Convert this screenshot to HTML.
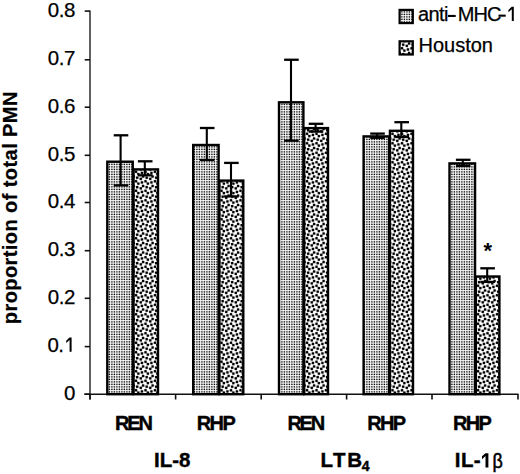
<!DOCTYPE html><html><head><meta charset="utf-8"><style>html,body{margin:0;padding:0;background:#fff;width:520px;height:474px;overflow:hidden}svg{display:block}text{font-family:"Liberation Sans",sans-serif}</style></head><body><svg width="520" height="474" viewBox="0 0 520 474"><defs><pattern id="pa" patternUnits="userSpaceOnUse" width="5" height="5" x="0" y="0"><rect width="5" height="5" fill="#fff"/><rect x="0" y="0" width="1" height="1" fill="#fafafa"/><rect x="1" y="0" width="1" height="1" fill="#e3e3e3"/><rect x="2" y="0" width="1" height="1" fill="#eaeaea"/><rect x="3" y="0" width="1" height="1" fill="#f2f2f2"/><rect x="4" y="0" width="1" height="1" fill="#dbdbdb"/><rect x="0" y="1" width="1" height="1" fill="#e3e3e3"/><rect x="1" y="1" width="1" height="1" fill="#696969"/><rect x="2" y="1" width="1" height="1" fill="#909090"/><rect x="3" y="1" width="1" height="1" fill="#b8b8b8"/><rect x="4" y="1" width="1" height="1" fill="#3e3e3e"/><rect x="0" y="2" width="1" height="1" fill="#eaeaea"/><rect x="1" y="2" width="1" height="1" fill="#909090"/><rect x="2" y="2" width="1" height="1" fill="#adadad"/><rect x="3" y="2" width="1" height="1" fill="#cacaca"/><rect x="4" y="2" width="1" height="1" fill="#707070"/><rect x="0" y="3" width="1" height="1" fill="#f2f2f2"/><rect x="1" y="3" width="1" height="1" fill="#b8b8b8"/><rect x="2" y="3" width="1" height="1" fill="#cacaca"/><rect x="3" y="3" width="1" height="1" fill="#dddddd"/><rect x="4" y="3" width="1" height="1" fill="#a3a3a3"/><rect x="0" y="4" width="1" height="1" fill="#dbdbdb"/><rect x="1" y="4" width="1" height="1" fill="#3e3e3e"/><rect x="2" y="4" width="1" height="1" fill="#707070"/><rect x="3" y="4" width="1" height="1" fill="#a3a3a3"/><rect x="4" y="4" width="1" height="1" fill="#060606"/></pattern><pattern id="pb" patternUnits="userSpaceOnUse" width="19" height="19" x="136" y="300"><rect width="19" height="19" fill="#fff"/><rect x="0" y="0" width="1" height="1" fill="#121212"/><rect x="1" y="0" width="1" height="1" fill="#020202"/><rect x="2" y="0" width="1" height="1" fill="#9f9f9f"/><rect x="4" y="0" width="1" height="1" fill="#fbfbfb"/><rect x="5" y="0" width="1" height="1" fill="#c6c6c6"/><rect x="6" y="0" width="1" height="1" fill="#020202"/><rect x="7" y="0" width="1" height="1" fill="#000000"/><rect x="8" y="0" width="1" height="1" fill="#969696"/><rect x="9" y="0" width="1" height="1" fill="#777777"/><rect x="10" y="0" width="1" height="1" fill="#020202"/><rect x="11" y="0" width="1" height="1" fill="#2f2f2f"/><rect x="12" y="0" width="1" height="1" fill="#f7f7f7"/><rect x="14" y="0" width="1" height="1" fill="#e4e4e4"/><rect x="15" y="0" width="1" height="1" fill="#5f5f5f"/><rect x="16" y="0" width="1" height="1" fill="#000000"/><rect x="17" y="0" width="1" height="1" fill="#363636"/><rect x="18" y="0" width="1" height="1" fill="#d3d3d3"/><rect x="0" y="1" width="1" height="1" fill="#020202"/><rect x="1" y="1" width="1" height="1" fill="#000000"/><rect x="2" y="1" width="1" height="1" fill="#898989"/><rect x="3" y="1" width="1" height="1" fill="#989898"/><rect x="4" y="1" width="1" height="1" fill="#2f2f2f"/><rect x="5" y="1" width="1" height="1" fill="#373737"/><rect x="6" y="1" width="1" height="1" fill="#a9a9a9"/><rect x="7" y="1" width="1" height="1" fill="#c8c8c8"/><rect x="8" y="1" width="1" height="1" fill="#e7e7e7"/><rect x="9" y="1" width="1" height="1" fill="#777777"/><rect x="10" y="1" width="1" height="1" fill="#000000"/><rect x="11" y="1" width="1" height="1" fill="#202020"/><rect x="12" y="1" width="1" height="1" fill="#d8d8d8"/><rect x="13" y="1" width="1" height="1" fill="#494949"/><rect x="14" y="1" width="1" height="1" fill="#282828"/><rect x="15" y="1" width="1" height="1" fill="#737373"/><rect x="16" y="1" width="1" height="1" fill="#b7b7b7"/><rect x="17" y="1" width="1" height="1" fill="#dadada"/><rect x="18" y="1" width="1" height="1" fill="#e9e9e9"/><rect x="0" y="2" width="1" height="1" fill="#8e8e8e"/><rect x="1" y="2" width="1" height="1" fill="#949494"/><rect x="2" y="2" width="1" height="1" fill="#d1d1d1"/><rect x="3" y="2" width="1" height="1" fill="#838383"/><rect x="4" y="2" width="1" height="1" fill="#000000"/><rect x="5" y="2" width="1" height="1" fill="#0f0f0f"/><rect x="6" y="2" width="1" height="1" fill="#efefef"/><rect x="9" y="2" width="1" height="1" fill="#c3c3c3"/><rect x="10" y="2" width="1" height="1" fill="#8b8b8b"/><rect x="11" y="2" width="1" height="1" fill="#adadad"/><rect x="12" y="2" width="1" height="1" fill="#e6e6e6"/><rect x="13" y="2" width="1" height="1" fill="#111111"/><rect x="14" y="2" width="1" height="1" fill="#000000"/><rect x="15" y="2" width="1" height="1" fill="#858585"/><rect x="18" y="2" width="1" height="1" fill="#fafafa"/><rect x="0" y="3" width="1" height="1" fill="#7e7e7e"/><rect x="1" y="3" width="1" height="1" fill="#e4e4e4"/><rect x="3" y="3" width="1" height="1" fill="#c7c7c7"/><rect x="4" y="3" width="1" height="1" fill="#686868"/><rect x="5" y="3" width="1" height="1" fill="#747474"/><rect x="8" y="3" width="1" height="1" fill="#b8b8b8"/><rect x="9" y="3" width="1" height="1" fill="#818181"/><rect x="10" y="3" width="1" height="1" fill="#a7a7a7"/><rect x="13" y="3" width="1" height="1" fill="#7e7e7e"/><rect x="14" y="3" width="1" height="1" fill="#636363"/><rect x="15" y="3" width="1" height="1" fill="#bcbcbc"/><rect x="17" y="3" width="1" height="1" fill="#f5f5f5"/><rect x="18" y="3" width="1" height="1" fill="#8c8c8c"/><rect x="0" y="4" width="1" height="1" fill="#000000"/><rect x="1" y="4" width="1" height="1" fill="#c5c5c5"/><rect x="4" y="4" width="1" height="1" fill="#e3e3e3"/><rect x="5" y="4" width="1" height="1" fill="#a3a3a3"/><rect x="6" y="4" width="1" height="1" fill="#b8b8b8"/><rect x="7" y="4" width="1" height="1" fill="#e9e9e9"/><rect x="8" y="4" width="1" height="1" fill="#4c4c4c"/><rect x="9" y="4" width="1" height="1" fill="#000000"/><rect x="10" y="4" width="1" height="1" fill="#4d4d4d"/><rect x="14" y="4" width="1" height="1" fill="#b9b9b9"/><rect x="15" y="4" width="1" height="1" fill="#ababab"/><rect x="16" y="4" width="1" height="1" fill="#d3d3d3"/><rect x="17" y="4" width="1" height="1" fill="#bdbdbd"/><rect x="18" y="4" width="1" height="1" fill="#000000"/><rect x="0" y="5" width="1" height="1" fill="#111111"/><rect x="1" y="5" width="1" height="1" fill="#a0a0a0"/><rect x="2" y="5" width="1" height="1" fill="#dedede"/><rect x="3" y="5" width="1" height="1" fill="#f3f3f3"/><rect x="4" y="5" width="1" height="1" fill="#b5b5b5"/><rect x="5" y="5" width="1" height="1" fill="#000000"/><rect x="6" y="5" width="1" height="1" fill="#020202"/><rect x="7" y="5" width="1" height="1" fill="#bbbbbb"/><rect x="8" y="5" width="1" height="1" fill="#5f5f5f"/><rect x="9" y="5" width="1" height="1" fill="#0e0e0e"/><rect x="10" y="5" width="1" height="1" fill="#4c4c4c"/><rect x="11" y="5" width="1" height="1" fill="#cacaca"/><rect x="12" y="5" width="1" height="1" fill="#e8e8e8"/><rect x="13" y="5" width="1" height="1" fill="#f5f5f5"/><rect x="14" y="5" width="1" height="1" fill="#424242"/><rect x="15" y="5" width="1" height="1" fill="#000000"/><rect x="16" y="5" width="1" height="1" fill="#595959"/><rect x="17" y="5" width="1" height="1" fill="#b4b4b4"/><rect x="18" y="5" width="1" height="1" fill="#191919"/><rect x="0" y="6" width="1" height="1" fill="#d5d5d5"/><rect x="1" y="6" width="1" height="1" fill="#2e2e2e"/><rect x="2" y="6" width="1" height="1" fill="#000000"/><rect x="3" y="6" width="1" height="1" fill="#696969"/><rect x="4" y="6" width="1" height="1" fill="#a3a3a3"/><rect x="5" y="6" width="1" height="1" fill="#020202"/><rect x="6" y="6" width="1" height="1" fill="#070707"/><rect x="7" y="6" width="1" height="1" fill="#d5d5d5"/><rect x="9" y="6" width="1" height="1" fill="#eaeaea"/><rect x="10" y="6" width="1" height="1" fill="#909090"/><rect x="11" y="6" width="1" height="1" fill="#000000"/><rect x="12" y="6" width="1" height="1" fill="#0d0d0d"/><rect x="13" y="6" width="1" height="1" fill="#c7c7c7"/><rect x="14" y="6" width="1" height="1" fill="#444444"/><rect x="15" y="6" width="1" height="1" fill="#000000"/><rect x="16" y="6" width="1" height="1" fill="#636363"/><rect x="17" y="6" width="1" height="1" fill="#fafafa"/><rect x="18" y="6" width="1" height="1" fill="#f9f9f9"/><rect x="1" y="7" width="1" height="1" fill="#323232"/><rect x="2" y="7" width="1" height="1" fill="#000000"/><rect x="3" y="7" width="1" height="1" fill="#6b6b6b"/><rect x="4" y="7" width="1" height="1" fill="#eeeeee"/><rect x="5" y="7" width="1" height="1" fill="#d1d1d1"/><rect x="6" y="7" width="1" height="1" fill="#bbbbbb"/><rect x="7" y="7" width="1" height="1" fill="#f0f0f0"/><rect x="10" y="7" width="1" height="1" fill="#aaaaaa"/><rect x="11" y="7" width="1" height="1" fill="#000000"/><rect x="12" y="7" width="1" height="1" fill="#020202"/><rect x="13" y="7" width="1" height="1" fill="#dedede"/><rect x="14" y="7" width="1" height="1" fill="#e4e4e4"/><rect x="15" y="7" width="1" height="1" fill="#c3c3c3"/><rect x="16" y="7" width="1" height="1" fill="#d2d2d2"/><rect x="1" y="8" width="1" height="1" fill="#ababab"/><rect x="2" y="8" width="1" height="1" fill="#9e9e9e"/><rect x="3" y="8" width="1" height="1" fill="#d9d9d9"/><rect x="5" y="8" width="1" height="1" fill="#f3f3f3"/><rect x="6" y="8" width="1" height="1" fill="#525252"/><rect x="7" y="8" width="1" height="1" fill="#4e4e4e"/><rect x="8" y="8" width="1" height="1" fill="#cccccc"/><rect x="10" y="8" width="1" height="1" fill="#dbdbdb"/><rect x="11" y="8" width="1" height="1" fill="#969696"/><rect x="12" y="8" width="1" height="1" fill="#acacac"/><rect x="15" y="8" width="1" height="1" fill="#9e9e9e"/><rect x="16" y="8" width="1" height="1" fill="#4a4a4a"/><rect x="17" y="8" width="1" height="1" fill="#797979"/><rect x="0" y="9" width="1" height="1" fill="#838383"/><rect x="1" y="9" width="1" height="1" fill="#707070"/><rect x="2" y="9" width="1" height="1" fill="#c8c8c8"/><rect x="5" y="9" width="1" height="1" fill="#d9d9d9"/><rect x="6" y="9" width="2" height="1" fill="#000000"/><rect x="8" y="9" width="1" height="1" fill="#9c9c9c"/><rect x="9" y="9" width="1" height="1" fill="#b8b8b8"/><rect x="10" y="9" width="1" height="1" fill="#757575"/><rect x="11" y="9" width="1" height="1" fill="#878787"/><rect x="14" y="9" width="1" height="1" fill="#fafafa"/><rect x="15" y="9" width="1" height="1" fill="#656565"/><rect x="16" y="9" width="1" height="1" fill="#000000"/><rect x="17" y="9" width="1" height="1" fill="#2f2f2f"/><rect x="18" y="9" width="1" height="1" fill="#e4e4e4"/><rect x="0" y="10" width="1" height="1" fill="#020202"/><rect x="1" y="10" width="1" height="1" fill="#000000"/><rect x="2" y="10" width="1" height="1" fill="#929292"/><rect x="3" y="10" width="1" height="1" fill="#d5d5d5"/><rect x="4" y="10" width="1" height="1" fill="#a7a7a7"/><rect x="5" y="10" width="1" height="1" fill="#8b8b8b"/><rect x="6" y="10" width="1" height="1" fill="#464646"/><rect x="7" y="10" width="1" height="1" fill="#505050"/><rect x="8" y="10" width="1" height="1" fill="#b7b7b7"/><rect x="9" y="10" width="1" height="1" fill="#717171"/><rect x="10" y="10" width="1" height="1" fill="#000000"/><rect x="11" y="10" width="1" height="1" fill="#202020"/><rect x="12" y="10" width="1" height="1" fill="#e9e9e9"/><rect x="13" y="10" width="1" height="1" fill="#b6b6b6"/><rect x="14" y="10" width="1" height="1" fill="#979797"/><rect x="15" y="10" width="1" height="1" fill="#676767"/><rect x="16" y="10" width="1" height="1" fill="#464646"/><rect x="17" y="10" width="1" height="1" fill="#797979"/><rect x="18" y="10" width="1" height="1" fill="#dadada"/><rect x="0" y="11" width="1" height="1" fill="#2f2f2f"/><rect x="1" y="11" width="1" height="1" fill="#202020"/><rect x="2" y="11" width="1" height="1" fill="#9b9b9b"/><rect x="3" y="11" width="1" height="1" fill="#7d7d7d"/><rect x="4" y="11" width="1" height="1" fill="#000000"/><rect x="5" y="11" width="1" height="1" fill="#0d0d0d"/><rect x="6" y="11" width="1" height="1" fill="#dadada"/><rect x="9" y="11" width="1" height="1" fill="#949494"/><rect x="10" y="11" width="1" height="1" fill="#202020"/><rect x="11" y="11" width="1" height="1" fill="#484848"/><rect x="12" y="11" width="1" height="1" fill="#d6d6d6"/><rect x="13" y="11" width="1" height="1" fill="#141414"/><rect x="14" y="11" width="1" height="1" fill="#000000"/><rect x="15" y="11" width="1" height="1" fill="#797979"/><rect x="16" y="11" width="1" height="1" fill="#efefef"/><rect x="18" y="11" width="1" height="1" fill="#f8f8f8"/><rect x="0" y="12" width="1" height="1" fill="#d2d2d2"/><rect x="1" y="12" width="1" height="1" fill="#eeeeee"/><rect x="2" y="12" width="1" height="1" fill="#fcfcfc"/><rect x="3" y="12" width="1" height="1" fill="#909090"/><rect x="4" y="12" width="1" height="1" fill="#000000"/><rect x="5" y="12" width="1" height="1" fill="#1e1e1e"/><rect x="6" y="12" width="1" height="1" fill="#fafafa"/><rect x="9" y="12" width="1" height="1" fill="#e1e1e1"/><rect x="10" y="12" width="1" height="1" fill="#dcdcdc"/><rect x="11" y="12" width="1" height="1" fill="#fcfcfc"/><rect x="12" y="12" width="1" height="1" fill="#f5f5f5"/><rect x="13" y="12" width="1" height="1" fill="#1e1e1e"/><rect x="14" y="12" width="1" height="1" fill="#000000"/><rect x="15" y="12" width="1" height="1" fill="#929292"/><rect x="18" y="12" width="1" height="1" fill="#f3f3f3"/><rect x="0" y="13" width="1" height="1" fill="#191919"/><rect x="1" y="13" width="1" height="1" fill="#d1d1d1"/><rect x="4" y="13" width="1" height="1" fill="#d9d9d9"/><rect x="5" y="13" width="1" height="1" fill="#cacaca"/><rect x="6" y="13" width="1" height="1" fill="#f9f9f9"/><rect x="8" y="13" width="1" height="1" fill="#646464"/><rect x="9" y="13" width="1" height="1" fill="#111111"/><rect x="10" y="13" width="1" height="1" fill="#646464"/><rect x="13" y="13" width="1" height="1" fill="#e8e8e8"/><rect x="14" y="13" width="1" height="1" fill="#cccccc"/><rect x="15" y="13" width="1" height="1" fill="#e2e2e2"/><rect x="17" y="13" width="1" height="1" fill="#cecece"/><rect x="18" y="13" width="1" height="1" fill="#191919"/><rect x="0" y="14" width="1" height="1" fill="#000000"/><rect x="1" y="14" width="1" height="1" fill="#b2b2b2"/><rect x="4" y="14" width="1" height="1" fill="#cecece"/><rect x="5" y="14" width="1" height="1" fill="#404040"/><rect x="6" y="14" width="1" height="1" fill="#474747"/><rect x="7" y="14" width="1" height="1" fill="#cacaca"/><rect x="8" y="14" width="1" height="1" fill="#494949"/><rect x="9" y="14" width="1" height="1" fill="#000000"/><rect x="10" y="14" width="1" height="1" fill="#434343"/><rect x="11" y="14" width="1" height="1" fill="#e9e9e9"/><rect x="14" y="14" width="1" height="1" fill="#767676"/><rect x="15" y="14" width="1" height="1" fill="#3d3d3d"/><rect x="16" y="14" width="1" height="1" fill="#868686"/><rect x="17" y="14" width="1" height="1" fill="#b2b2b2"/><rect x="18" y="14" width="1" height="1" fill="#000000"/><rect x="0" y="15" width="1" height="1" fill="#787878"/><rect x="1" y="15" width="1" height="1" fill="#646464"/><rect x="2" y="15" width="1" height="1" fill="#686868"/><rect x="3" y="15" width="1" height="1" fill="#aaaaaa"/><rect x="4" y="15" width="1" height="1" fill="#a8a8a8"/><rect x="5" y="15" width="2" height="1" fill="#000000"/><rect x="7" y="15" width="1" height="1" fill="#c6c6c6"/><rect x="8" y="15" width="1" height="1" fill="#b3b3b3"/><rect x="9" y="15" width="1" height="1" fill="#828282"/><rect x="10" y="15" width="1" height="1" fill="#707070"/><rect x="11" y="15" width="1" height="1" fill="#5e5e5e"/><rect x="12" y="15" width="1" height="1" fill="#757575"/><rect x="13" y="15" width="1" height="1" fill="#dcdcdc"/><rect x="14" y="15" width="1" height="1" fill="#3d3d3d"/><rect x="15" y="15" width="1" height="1" fill="#000000"/><rect x="16" y="15" width="1" height="1" fill="#595959"/><rect x="17" y="15" width="1" height="1" fill="#d8d8d8"/><rect x="18" y="15" width="1" height="1" fill="#8f8f8f"/><rect x="0" y="16" width="1" height="1" fill="#eaeaea"/><rect x="1" y="16" width="1" height="1" fill="#292929"/><rect x="2" y="16" width="1" height="1" fill="#000000"/><rect x="3" y="16" width="1" height="1" fill="#656565"/><rect x="4" y="16" width="1" height="1" fill="#c4c4c4"/><rect x="5" y="16" width="1" height="1" fill="#5f5f5f"/><rect x="6" y="16" width="1" height="1" fill="#5c5c5c"/><rect x="7" y="16" width="1" height="1" fill="#e7e7e7"/><rect x="10" y="16" width="1" height="1" fill="#9b9b9b"/><rect x="11" y="16" width="2" height="1" fill="#000000"/><rect x="13" y="16" width="1" height="1" fill="#cfcfcf"/><rect x="14" y="16" width="1" height="1" fill="#8c8c8c"/><rect x="15" y="16" width="1" height="1" fill="#585858"/><rect x="16" y="16" width="1" height="1" fill="#9a9a9a"/><rect x="1" y="17" width="1" height="1" fill="#616161"/><rect x="2" y="17" width="1" height="1" fill="#2f2f2f"/><rect x="3" y="17" width="1" height="1" fill="#919191"/><rect x="5" y="17" width="1" height="1" fill="#f4f4f4"/><rect x="6" y="17" width="1" height="1" fill="#b0b0b0"/><rect x="7" y="17" width="1" height="1" fill="#c1c1c1"/><rect x="10" y="17" width="1" height="1" fill="#c2c2c2"/><rect x="11" y="17" width="1" height="1" fill="#323232"/><rect x="12" y="17" width="1" height="1" fill="#3b3b3b"/><rect x="13" y="17" width="1" height="1" fill="#efefef"/><rect x="15" y="17" width="1" height="1" fill="#cfcfcf"/><rect x="16" y="17" width="1" height="1" fill="#b4b4b4"/><rect x="17" y="17" width="1" height="1" fill="#d8d8d8"/><rect x="0" y="18" width="1" height="1" fill="#f3f3f3"/><rect x="1" y="18" width="1" height="1" fill="#d7d7d7"/><rect x="2" y="18" width="1" height="1" fill="#e9e9e9"/><rect x="5" y="18" width="1" height="1" fill="#e7e7e7"/><rect x="6" y="18" width="1" height="1" fill="#070707"/><rect x="7" y="18" width="1" height="1" fill="#000000"/><rect x="8" y="18" width="1" height="1" fill="#a9a9a9"/><rect x="9" y="18" width="1" height="1" fill="#fafafa"/><rect x="10" y="18" width="1" height="1" fill="#e6e6e6"/><rect x="11" y="18" width="1" height="1" fill="#d7d7d7"/><rect x="12" y="18" width="1" height="1" fill="#f9f9f9"/><rect x="15" y="18" width="1" height="1" fill="#717171"/><rect x="16" y="18" width="1" height="1" fill="#000000"/><rect x="17" y="18" width="1" height="1" fill="#363636"/><rect x="18" y="18" width="1" height="1" fill="#f8f8f8"/></pattern></defs><line x1="90.0" y1="10.5" x2="90.0" y2="399.5" stroke="#444" stroke-width="1.7"/><line x1="84.7" y1="11.10" x2="90.0" y2="11.10" stroke="#111" stroke-width="1.6"/><text x="74.8" y="16.50" font-size="20.5" text-anchor="end" letter-spacing="-0.5" stroke="#000" stroke-width="0.25">0.8</text><line x1="84.7" y1="59.80" x2="90.0" y2="59.80" stroke="#111" stroke-width="1.6"/><text x="74.8" y="65.20" font-size="20.5" text-anchor="end" letter-spacing="-0.5" stroke="#000" stroke-width="0.25">0.7</text><line x1="84.7" y1="107.20" x2="90.0" y2="107.20" stroke="#111" stroke-width="1.6"/><text x="74.8" y="112.60" font-size="20.5" text-anchor="end" letter-spacing="-0.5" stroke="#000" stroke-width="0.25">0.6</text><line x1="84.7" y1="155.30" x2="90.0" y2="155.30" stroke="#111" stroke-width="1.6"/><text x="74.8" y="160.70" font-size="20.5" text-anchor="end" letter-spacing="-0.5" stroke="#000" stroke-width="0.25">0.5</text><line x1="84.7" y1="202.50" x2="90.0" y2="202.50" stroke="#111" stroke-width="1.6"/><text x="74.8" y="207.90" font-size="20.5" text-anchor="end" letter-spacing="-0.5" stroke="#000" stroke-width="0.25">0.4</text><line x1="84.7" y1="250.70" x2="90.0" y2="250.70" stroke="#111" stroke-width="1.6"/><text x="74.8" y="256.10" font-size="20.5" text-anchor="end" letter-spacing="-0.5" stroke="#000" stroke-width="0.25">0.3</text><line x1="84.7" y1="298.30" x2="90.0" y2="298.30" stroke="#111" stroke-width="1.6"/><text x="74.8" y="303.70" font-size="20.5" text-anchor="end" letter-spacing="-0.5" stroke="#000" stroke-width="0.25">0.2</text><line x1="84.7" y1="346.60" x2="90.0" y2="346.60" stroke="#111" stroke-width="1.6"/><text x="63.5" y="352.00" font-size="20.5" text-anchor="end" letter-spacing="-0.5" stroke="#000" stroke-width="0.25">0.</text><path d="M71.60,351.70 V337.50 H69.50 L66.20,340.70 V343.00 L69.60,340.10 V351.70 Z" fill="#000"/><line x1="84.7" y1="394.20" x2="90.0" y2="394.20" stroke="#111" stroke-width="1.6"/><text x="74.8" y="399.60" font-size="20.5" text-anchor="end" letter-spacing="-0.5" stroke="#000" stroke-width="0.25">0</text><line x1="84.3" y1="394.2" x2="518.5" y2="394.2" stroke="#111" stroke-width="1.6"/><line x1="90.00" y1="394.2" x2="90.00" y2="399.5" stroke="#111" stroke-width="1.6"/><line x1="175.60" y1="394.2" x2="175.60" y2="399.5" stroke="#111" stroke-width="1.6"/><line x1="261.20" y1="394.2" x2="261.20" y2="399.5" stroke="#111" stroke-width="1.6"/><line x1="346.60" y1="394.2" x2="346.60" y2="399.5" stroke="#111" stroke-width="1.6"/><line x1="432.00" y1="394.2" x2="432.00" y2="399.5" stroke="#111" stroke-width="1.6"/><line x1="518.00" y1="394.2" x2="518.00" y2="399.5" stroke="#111" stroke-width="1.6"/><rect x="107.30" y="161.70" width="25.45" height="232.50" fill="url(#pa)" stroke="#000" stroke-width="2.4"/><rect x="133.55" y="169.40" width="24.45" height="224.80" fill="url(#pb)" stroke="#000" stroke-width="2.4"/><rect x="193.20" y="145.00" width="25.40" height="249.20" fill="url(#pa)" stroke="#000" stroke-width="2.4"/><rect x="219.40" y="180.60" width="23.90" height="213.60" fill="url(#pb)" stroke="#000" stroke-width="2.4"/><rect x="279.00" y="102.30" width="24.40" height="291.90" fill="url(#pa)" stroke="#000" stroke-width="2.4"/><rect x="304.20" y="128.10" width="23.80" height="266.10" fill="url(#pb)" stroke="#000" stroke-width="2.4"/><rect x="363.60" y="136.40" width="25.55" height="257.80" fill="url(#pa)" stroke="#000" stroke-width="2.4"/><rect x="389.95" y="130.80" width="23.05" height="263.40" fill="url(#pb)" stroke="#000" stroke-width="2.4"/><rect x="449.50" y="163.40" width="25.55" height="230.80" fill="url(#pa)" stroke="#000" stroke-width="2.4"/><rect x="475.85" y="276.50" width="23.55" height="117.70" fill="url(#pb)" stroke="#000" stroke-width="2.4"/><line x1="120.60" y1="135.30" x2="120.60" y2="185.40" stroke="#000" stroke-width="2.1"/><line x1="113.70" y1="135.30" x2="128.30" y2="135.30" stroke="#000" stroke-width="2.3"/><line x1="113.70" y1="185.40" x2="128.30" y2="185.40" stroke="#000" stroke-width="2.3"/><line x1="144.80" y1="161.30" x2="144.80" y2="175.30" stroke="#000" stroke-width="2.1"/><line x1="137.90" y1="161.30" x2="152.50" y2="161.30" stroke="#000" stroke-width="2.3"/><line x1="137.90" y1="175.30" x2="152.50" y2="175.30" stroke="#000" stroke-width="2.3"/><line x1="206.80" y1="128.00" x2="206.80" y2="160.00" stroke="#000" stroke-width="2.1"/><line x1="199.90" y1="128.00" x2="214.50" y2="128.00" stroke="#000" stroke-width="2.3"/><line x1="199.90" y1="160.00" x2="214.50" y2="160.00" stroke="#000" stroke-width="2.3"/><line x1="231.00" y1="162.90" x2="231.00" y2="196.40" stroke="#000" stroke-width="2.1"/><line x1="224.10" y1="162.90" x2="238.70" y2="162.90" stroke="#000" stroke-width="2.3"/><line x1="224.10" y1="196.40" x2="238.70" y2="196.40" stroke="#000" stroke-width="2.3"/><line x1="291.00" y1="59.75" x2="291.00" y2="140.70" stroke="#000" stroke-width="2.1"/><line x1="284.10" y1="59.75" x2="298.70" y2="59.75" stroke="#000" stroke-width="2.3"/><line x1="284.10" y1="140.70" x2="298.70" y2="140.70" stroke="#000" stroke-width="2.3"/><line x1="315.60" y1="123.80" x2="315.60" y2="131.60" stroke="#000" stroke-width="2.1"/><line x1="308.70" y1="123.80" x2="323.30" y2="123.80" stroke="#000" stroke-width="2.3"/><line x1="308.70" y1="131.60" x2="323.30" y2="131.60" stroke="#000" stroke-width="2.3"/><line x1="377.10" y1="133.60" x2="377.10" y2="137.80" stroke="#000" stroke-width="2.1"/><line x1="370.20" y1="133.60" x2="384.80" y2="133.60" stroke="#000" stroke-width="2.3"/><line x1="370.20" y1="137.80" x2="384.80" y2="137.80" stroke="#000" stroke-width="2.3"/><line x1="401.30" y1="122.20" x2="401.30" y2="137.00" stroke="#000" stroke-width="2.1"/><line x1="394.40" y1="122.20" x2="409.00" y2="122.20" stroke="#000" stroke-width="2.3"/><line x1="394.40" y1="137.00" x2="409.00" y2="137.00" stroke="#000" stroke-width="2.3"/><line x1="462.80" y1="159.80" x2="462.80" y2="166.00" stroke="#000" stroke-width="2.1"/><line x1="455.90" y1="159.80" x2="470.50" y2="159.80" stroke="#000" stroke-width="2.3"/><line x1="455.90" y1="166.00" x2="470.50" y2="166.00" stroke="#000" stroke-width="2.3"/><line x1="487.20" y1="268.30" x2="487.20" y2="281.90" stroke="#000" stroke-width="2.1"/><line x1="480.30" y1="268.30" x2="494.90" y2="268.30" stroke="#000" stroke-width="2.3"/><line x1="480.30" y1="281.90" x2="494.90" y2="281.90" stroke="#000" stroke-width="2.3"/><text x="487.8" y="257.8" font-size="22" font-weight="bold" text-anchor="middle">*</text><text transform="translate(16.6,207.7) rotate(-90)" font-size="20" font-weight="bold" text-anchor="middle" letter-spacing="0.42" stroke="#000" stroke-width="0.2">proportion of total PMN</text><text x="132.9" y="430" font-size="20" font-weight="bold" text-anchor="middle" letter-spacing="-2.2" stroke="#000" stroke-width="0.4">REN</text><text x="215.5" y="430" font-size="20" font-weight="bold" text-anchor="middle" letter-spacing="-1.6" stroke="#000" stroke-width="0.4">RHP</text><text x="305.2" y="430" font-size="20" font-weight="bold" text-anchor="middle" letter-spacing="-2.2" stroke="#000" stroke-width="0.4">REN</text><text x="385.9" y="430" font-size="20" font-weight="bold" text-anchor="middle" letter-spacing="-1.7" stroke="#000" stroke-width="0.4">RHP</text><text x="471.6" y="430" font-size="20" font-weight="bold" text-anchor="middle" letter-spacing="-1.6" stroke="#000" stroke-width="0.4">RHP</text><text x="172.3" y="467.0" font-size="20.5" font-weight="bold" text-anchor="middle" stroke="#000" stroke-width="0.4">IL-8</text><text x="320.5" y="467.0" font-size="20.5" font-weight="bold" stroke="#000" stroke-width="0.4" letter-spacing="1.6">LTB<tspan font-size="14" dx="-1.8" dy="4.3" letter-spacing="0">4</tspan></text><text x="454.8" y="467.2" font-size="20.5" font-weight="bold" stroke="#000" stroke-width="0.4" letter-spacing="0.4">IL-</text><path d="M488.40,467.40 V453.30 H485.40 L482.00,456.30 V459.20 L485.50,455.90 V467.40 Z" fill="#000"/><text transform="translate(492.6,468.4) scale(0.92,1)" font-size="19.5" stroke="#000" stroke-width="0.55">β</text><rect x="399.6" y="9.9" width="13.2" height="13.2" fill="url(#pa)" stroke="#000" stroke-width="2.2"/><rect x="399.6" y="41.3" width="13.2" height="13.2" fill="url(#pb)" stroke="#000" stroke-width="2.2"/><text x="418" y="20.8" font-size="20" letter-spacing="-0.6" stroke="#000" stroke-width="0.25">anti</text><rect x="447.9" y="14.9" width="7.8" height="2.1" fill="#000"/><text x="457.8" y="20.8" font-size="20" letter-spacing="-1.0" stroke="#000" stroke-width="0.25">MHC</text><rect x="498.5" y="14.6" width="7.2" height="2.1" fill="#000"/><path d="M513.80,20.90 V6.70 H511.70 L508.40,9.90 V12.20 L511.80,9.30 V20.90 Z" fill="#000"/><text x="418.5" y="52.4" font-size="20" stroke="#000" stroke-width="0.25">Houston</text></svg></body></html>
